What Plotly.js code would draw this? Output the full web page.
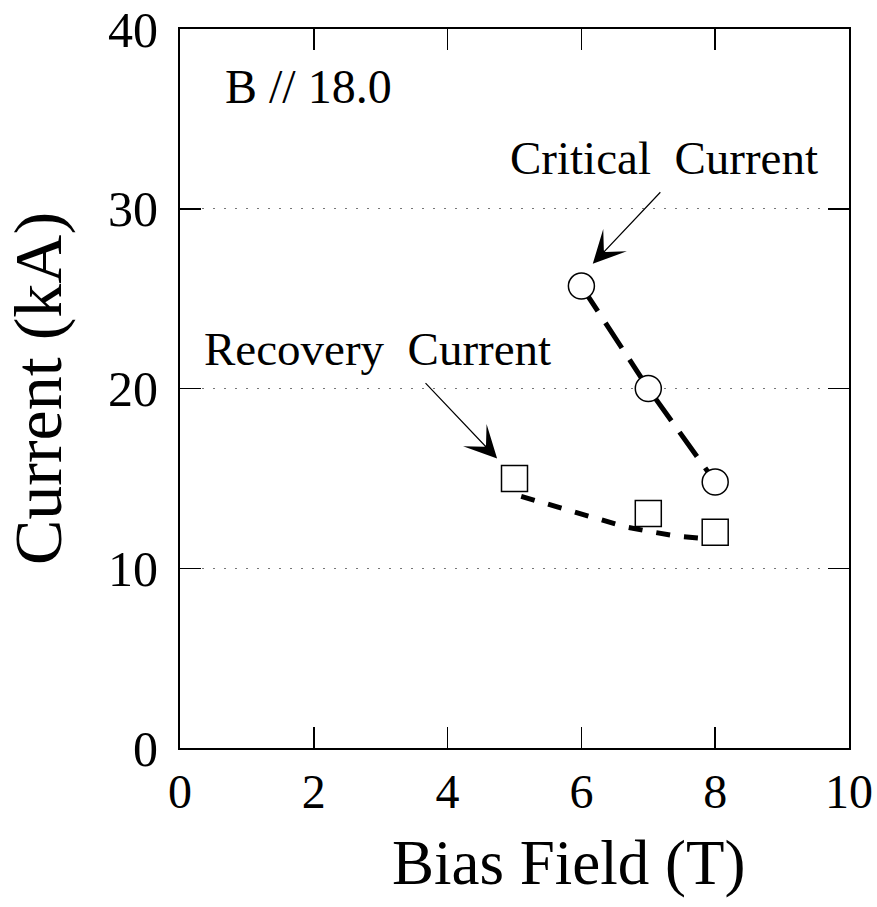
<!DOCTYPE html>
<html>
<head>
<meta charset="utf-8">
<script src="https://cdn.plot.ly/plotly-3.0.1.min.js"></script>
<style>html,body{margin:0;padding:0;background:#fff;}</style>
</head>
<body>
<div id="chart" style="width:877px;height:907px;"></div>
<script>
// Critical current (open circles)
const critField = [6, 7, 8];
const critCurrent = [25.7, 20.0, 14.8];
// Recovery current (open squares)
const recField = [5, 7, 8];
const recCurrent = [15.0, 13.05, 12.0];
// Dashed fit through the recovery current
const fitField = [5.1, 5.35, 5.86, 6.28, 6.65, 7.04, 7.44, 7.75];
const fitCurrent = [14.0, 13.72, 13.14, 12.67, 12.31, 12.03, 11.78, 11.68];
// Axis ticks
const xTicks = [0, 2, 4, 6, 8, 10];
const yTicks = [0, 10, 20, 30, 40];

const serif = 'Liberation Serif';

const traces = [
  { x: critField, y: critCurrent, mode: 'lines', showlegend: false, hoverinfo: 'skip',
    line: { color: 'black', width: 5, dash: '30px,14px' } },
  { x: fitField, y: fitCurrent, mode: 'lines', showlegend: false, hoverinfo: 'skip',
    line: { color: 'black', width: 5, dash: '14px,14px' } },
  { x: critField, y: critCurrent, mode: 'markers', name: 'Critical Current', showlegend: false,
    marker: { symbol: 'circle', size: 26, color: 'white', line: { color: 'black', width: 1.5 } } },
  { x: recField, y: recCurrent, mode: 'markers', name: 'Recovery Current', showlegend: false,
    marker: { symbol: 'square', size: 26, color: 'white', line: { color: 'black', width: 1.5 } } }
];

const layout = {
  width: 877, height: 907,
  margin: { l: 180, r: 28, t: 29, b: 159 },
  paper_bgcolor: 'white', plot_bgcolor: 'white',
  font: { family: serif, color: 'black' },
  showlegend: false,
  xaxis: {
    range: [0, 10], tickvals: xTicks, ticktext: xTicks.map(String),
    showgrid: false, zeroline: false,
    showline: true, linecolor: 'black', linewidth: 2, mirror: 'ticks',
    ticks: 'inside', ticklen: 21, tickwidth: 1.5, tickcolor: 'black',
    tickfont: { family: serif, size: 48, color: 'black' },
    ticklabelstandoff: 0
  },
  yaxis: {
    range: [0, 40], tickvals: yTicks, ticktext: yTicks.map(String),
    showgrid: true, gridcolor: '#777', gridwidth: 1, griddash: '2px,9px',
    zeroline: false,
    showline: true, linecolor: 'black', linewidth: 2, mirror: 'ticks',
    ticks: 'inside', ticklen: 21, tickwidth: 1.5, tickcolor: 'black',
    tickfont: { family: serif, size: 50, color: 'black' },
    ticklabelstandoff: 10,
    title: { text: 'Current (kA)', font: { family: serif, size: 68, color: 'black' }, standoff: 30 }
  },
  annotations: [
    { xref: 'paper', yref: 'paper', x: 0.58, y: -0.16, xanchor: 'center', yanchor: 'middle',
      text: 'Bias Field (T)', showarrow: false, font: { family: serif, size: 63, color: 'black' } },
    { xref: 'x', yref: 'y', x: 0.64, y: 36.8, xanchor: 'left', yanchor: 'middle',
      text: 'B // 18.0', showarrow: false, font: { family: serif, size: 48, color: 'black' } },
    { xref: 'x', yref: 'y', x: 4.90, y: 32.8, xanchor: 'left', yanchor: 'middle',
      text: 'Critical&nbsp;&nbsp;Current', showarrow: false, font: { family: serif, size: 47, color: 'black' } },
    { xref: 'x', yref: 'y', x: 0.33, y: 22.2, xanchor: 'left', yanchor: 'middle',
      text: 'Recovery&nbsp;&nbsp;Current', showarrow: false, font: { family: serif, size: 47, color: 'black' } },
    { xref: 'x', yref: 'y', x: 6.17, y: 26.94, text: '', showarrow: true,
      ax: 69, ay: -73, arrowhead: 3, arrowsize: 4.5, arrowwidth: 1.2, arrowcolor: 'black', standoff: 0 },
    { xref: 'x', yref: 'y', x: 4.74, y: 16.1, text: '', showarrow: true,
      ax: -73, ay: -77, arrowhead: 3, arrowsize: 4.5, arrowwidth: 1.2, arrowcolor: 'black', standoff: 0 }
  ]
};

Plotly.newPlot('chart', traces, layout, { staticPlot: true, displayModeBar: false });
</script>
</body>
</html>
